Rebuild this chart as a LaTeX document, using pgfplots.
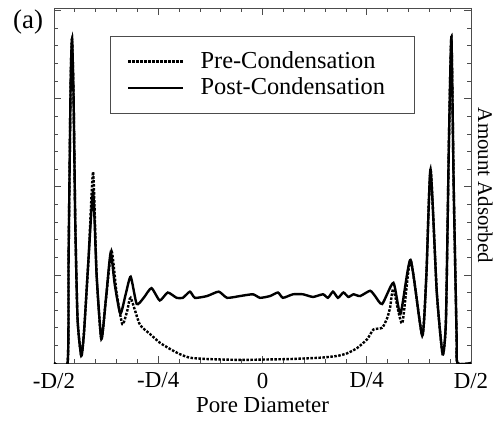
\documentclass[border=0pt]{standalone}
\usepackage{pgfplots}
\pgfplotsset{compat=1.18}
\usepackage{fontspec}
\setmainfont{Liberation Serif}
\begin{document}
\fontsize{23}{27}\selectfont
\begin{tikzpicture}
\path[use as bounding box] (-54bp,-60bp) rectangle (444bp,363bp);
\begin{axis}[
  at={(0,0)}, anchor=south west,
  scale only axis, width=417bp, height=355bp,
  clip mode=individual,
  xmin=-0.5, xmax=0.5, ymin=0, ymax=4.03,
  xtick={-0.5,-0.25,0,0.25,0.5},
  xticklabels={-D/2,-D/4,0,D/4,D/2},
  ytick={0,1,2,3,4}, yticklabels={},
  minor x tick num=4, minor y tick num=4,
  tick align=inside,
  major tick length=7bp, minor tick length=4bp,
  tick style={black!70, line width=0.8bp},
  axis line style={black!70, line width=0.9bp},
  /pgf/number format/assume math mode=true,
  ticklabel style={font=\fontsize{23}{27}\selectfont},
  xticklabel style={yshift=-2bp},
  xlabel={Pore Diameter},
  xlabel style={font=\fontsize{23}{27}\selectfont, yshift=6bp},
  legend style={at={(0.134,0.921)}, anchor=north west, draw=black!70, line width=0.6bp,
    font=\fontsize{24.5}{28}\selectfont, inner xsep=17bp, inner ysep=13bp,
    row sep=2bp, cells={anchor=west}},
  legend image code/.code={\draw[#1] (0bp,0bp) -- (55bp,0bp);},
  legend cell align=left,
]
\addplot[black, line width=2.4bp, dash pattern=on 2.5bp off 1.5bp, smooth, tension=0.35] coordinates {
(-0.5,0) (-0.4675,0) (-0.4650,1.2) (-0.4600,3.2) (-0.4567,3.68) (-0.4530,3.0) (-0.4490,1.6) (-0.4435,0.5) (-0.4346,0.08)
(-0.4280,0.35) (-0.4170,1.2) (-0.4062,2.17) (-0.3978,1.0) (-0.3865,0.27) (-0.3760,0.7) (-0.3620,1.27)
(-0.3500,0.8) (-0.3360,0.44) (-0.3240,0.6) (-0.3161,0.74) (-0.2945,0.44) (-0.27,0.33) (-0.246,0.23)
(-0.222,0.16) (-0.198,0.10) (-0.174,0.06) (-0.133,0.045) (-0.054,0.035) (0.011,0.04) (0.066,0.045)
(0.138,0.06) (0.179,0.08) (0.203,0.11) (0.227,0.17) (0.251,0.27) (0.266,0.38) (0.287,0.40) (0.299,0.51)
(0.306,0.63) (0.314,0.84) (0.335,0.45) (0.355,1.17) (0.383,0.31) (0.393,1.0) (0.403,2.2) (0.418,0.8) (0.432,0.10)
(0.440,0.5) (0.447,2.5) (0.453,3.70) (0.4585,2.0) (0.4655,0.3) (0.4675,0) (0.5,0)
};
\addlegendentry{\hspace*{14bp}Pre-Condensation\hspace*{10bp}}
\addplot[black, line width=2.4bp, smooth, tension=0.35] coordinates {
(-0.5,0) (-0.4675,0) (-0.4650,1.2) (-0.4600,3.2) (-0.4567,3.68) (-0.4530,3.0) (-0.4490,1.6) (-0.4435,0.5) (-0.4346,0.08)
(-0.4280,0.35) (-0.4170,1.2) (-0.4062,1.95) (-0.3978,1.0) (-0.3865,0.27) (-0.3760,0.7) (-0.3642,1.25)
(-0.3546,0.9) (-0.3409,0.56) (-0.3281,0.78) (-0.3161,0.98) (-0.3017,0.67) (-0.2849,0.74) (-0.2663,0.85)
(-0.2464,0.71) (-0.2272,0.80) (-0.206,0.74) (-0.191,0.74) (-0.174,0.81) (-0.162,0.74) (-0.133,0.76)
(-0.105,0.81) (-0.085,0.74) (-0.054,0.76) (-0.023,0.78) (-0.006,0.74) (0.018,0.76) (0.037,0.80)
(0.049,0.74) (0.073,0.78) (0.097,0.78) (0.121,0.75) (0.145,0.78) (0.157,0.74) (0.169,0.81) (0.181,0.74)
(0.194,0.80) (0.206,0.75) (0.218,0.78) (0.234,0.76) (0.258,0.82) (0.270,0.76) (0.287,0.67) (0.314,0.91)
(0.331,0.56) (0.355,1.17) (0.383,0.31) (0.393,1.0) (0.403,2.2) (0.418,0.8) (0.432,0.10)
(0.440,0.5) (0.447,2.5) (0.453,3.70) (0.4585,2.0) (0.4655,0.3) (0.4675,0) (0.5,0)
};
\addlegendentry{\hspace*{14bp}Post-Condensation\hspace*{10bp}}
\node[rotate=-90, anchor=center, font=\fontsize{21}{25}\selectfont] at (axis description cs:1.034,0.5) {Amount Adsorbed};
\node[anchor=center, font=\fontsize{27}{31}\selectfont] at (axis description cs:-0.062,0.96) {(a)};
\end{axis}
\end{tikzpicture}
\end{document}
